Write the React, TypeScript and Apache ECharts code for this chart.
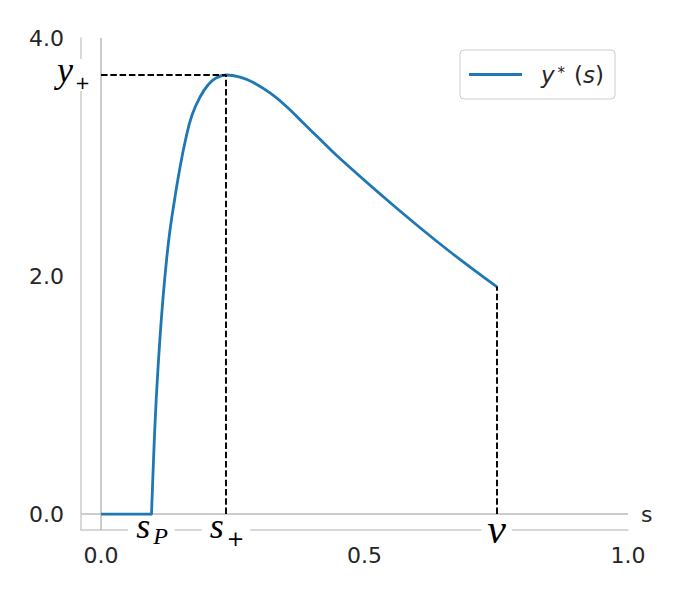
import React, { useEffect, useRef } from 'react';
import * as echarts from 'echarts';

// curve y*(s)
const sValues = [0, 0.0958, 0.0991, 0.1028, 0.1068, 0.1116, 0.1173, 0.1243, 0.1309, 0.1395, 0.149, 0.1603, 0.1727, 0.1879, 0.203, 0.2182, 0.2372, 0.2638, 0.289, 0.3207, 0.3524, 0.3839, 0.4156, 0.4472, 0.5357, 0.5991, 0.6622, 0.7508];
const yValues = [0, 0, 0.395, 0.79, 1.126, 1.462, 1.798, 2.134, 2.387, 2.639, 2.891, 3.143, 3.353, 3.504, 3.605, 3.664, 3.689, 3.671, 3.626, 3.538, 3.423, 3.286, 3.149, 3.013, 2.666, 2.429, 2.204, 1.91];

const xTickValues = [0, 0.5, 1.0];
const yTickValues = [0, 2, 4];

// special points
const sP = 0.0958;
const sPlus = 0.2372;
const yPlus = 3.689;
const vEnd = 0.7508;
const yAtV = 1.91;

const xMin = -0.038;
const xMax = 1.0;
const yMin = -0.134;
const yMax = 4.0;

const near = (a: number, b: number) => Math.abs(a - b) < 1e-6;

export default function App() {
  const ref = useRef<HTMLDivElement>(null);
  useEffect(() => {
    const chart = echarts.init(ref.current!, null, { renderer: 'svg' });
    const mathFont = 'Liberation Serif';
    const dash = { color: '#000', width: 1.9, type: [6.5, 2.8] as any };
    const blue = '#1f77b4';
    const points = sValues.map((s, i) => [s, yValues[i]]);
    const option: any = {
      animation: false,
      backgroundColor: '#fff',
      textStyle: { fontFamily: 'DejaVu Sans' },
      grid: { left: 81, right: 47, top: 38, bottom: 70, containLabel: false, outerBoundsMode: 'none' },
      legend: {
        data: ['y*(s)'],
        left: 460,
        top: 50,
        padding: [13, 11, 13, 9],
        icon: 'rect',
        itemWidth: 53,
        itemHeight: 3,
        borderColor: '#cccccc',
        borderWidth: 1,
        borderRadius: 4,
        backgroundColor: '#fff',
        formatter: () => '{li0|y}{lsup|*}{ln|(}{li|s}{ln|)}',
        textStyle: {
          color: '#262626',
          rich: {
            li0: { fontFamily: 'DejaVu Sans', fontStyle: 'italic', fontSize: 23, lineHeight: 25, padding: [0, 0, 0, 14], color: '#262626' },
            li: { fontFamily: 'DejaVu Sans', fontStyle: 'italic', fontSize: 23, lineHeight: 25, color: '#262626' },
            lsup: { fontFamily: 'DejaVu Sans', fontSize: 15, lineHeight: 25, padding: [0, 9, 4, 3], color: '#262626' },
            ln: { fontFamily: 'DejaVu Sans', fontSize: 23, lineHeight: 25, color: '#262626' },
          },
        },
      },
      xAxis: {
        type: 'value',
        min: xMin,
        max: xMax,
        axisLine: { show: true, onZero: false, lineStyle: { color: '#cccccc', width: 1.5 } },
        axisTick: { show: false },
        splitLine: { show: false },
        axisLabel: {
          customValues: [xTickValues[0], sP, sPlus, xTickValues[1], vEnd, xTickValues[2]],
          margin: -14,
          formatter: (v: number) => {
            if (near(v, sP)) return '{ms|s}{msubI|P}';
            if (near(v, sPlus)) return '{ms|s}{msub|+}';
            if (near(v, vEnd)) return '{mv|v}';
            return '{num|' + v.toFixed(1) + '}';
          },
          rich: {
            num: { fontFamily: 'DejaVu Sans', fontSize: 22, lineHeight: 26, padding: [52, 0, 0, 0], color: '#262626' },
            ms: { fontFamily: mathFont, fontStyle: 'italic', fontSize: 36, lineHeight: 30, padding: [0, 1, 10, 8], color: '#000', backgroundColor: '#fff' },
            msub: { fontFamily: 'DejaVu Sans', fontSize: 21, lineHeight: 30, padding: [16, 6, 0, 2], color: '#000', backgroundColor: '#fff' },
            msubI: { fontFamily: mathFont, fontStyle: 'italic', fontSize: 24, lineHeight: 30, padding: [10, 7, 0, 2], color: '#000', backgroundColor: '#fff' },
            mv: { fontFamily: mathFont, fontStyle: 'italic', fontSize: 42, lineHeight: 30, padding: [0, 6, 5, 6], color: '#000', backgroundColor: '#fff' },
          },
        },
      },
      yAxis: {
        type: 'value',
        min: yMin,
        max: yMax,
        axisLine: { show: true, onZero: false, lineStyle: { color: '#cccccc', width: 1.5 } },
        axisTick: { show: false },
        splitLine: { show: false },
        axisLabel: {
          customValues: [yTickValues[0], yTickValues[1], yPlus, yTickValues[2]],
          margin: -9,
          formatter: (v: number) => {
            if (near(v, yPlus)) return '{my|y}{mysub|+}';
            return '{num|' + v.toFixed(1) + '}';
          },
          rich: {
            num: { fontFamily: 'DejaVu Sans', fontSize: 22, lineHeight: 26, padding: [0, 26, 0, 0], color: '#262626' },
            my: { fontFamily: mathFont, fontStyle: 'italic', fontSize: 36, lineHeight: 30, padding: [0, 0, 10, 3], color: '#000', backgroundColor: '#fff' },
            mysub: { fontFamily: 'DejaVu Sans', fontSize: 18, lineHeight: 30, padding: [14, 0, 0, 2], color: '#000', backgroundColor: '#fff' },
          },
        },
      },
      series: [
        {
          name: 'axes-helper',
          type: 'line',
          z: 1,
          data: [[0, 0]],
          symbol: 'none',
          lineStyle: { width: 0 },
          silent: true,
          markLine: {
            z: 1,
            silent: true,
            symbol: ['none', 'none'],
            animation: false,
            data: [
              { xAxis: 0, lineStyle: { color: '#bbbbbb', width: 1.5, type: 'solid' }, label: { show: false } },
              {
                yAxis: 0,
                lineStyle: { color: '#bbbbbb', width: 1.5, type: 'solid' },
                label: { show: true, position: 'end', distance: 13, formatter: 's', color: '#262626', fontSize: 22, fontFamily: 'DejaVu Sans' },
              },
            ],
          },
        },
        {
          name: 'y*(s)',
          type: 'line',
          z: 3,
          data: points.slice(0, 2),
          symbol: 'none',
          color: blue,
          lineStyle: { color: blue, width: 2.8 },
        },
        {
          name: 'y*(s)',
          type: 'line',
          z: 3,
          data: points.slice(1),
          symbol: 'none',
          smooth: 0.45,
          color: blue,
          lineStyle: { color: blue, width: 2.8, cap: 'round', join: 'round' },
          markLine: {
            silent: true,
            symbol: ['none', 'none'],
            animation: false,
            label: { show: false },
            lineStyle: dash,
            data: [
              [{ coord: [0, yPlus] }, { coord: [sPlus, yPlus] }],
              [{ coord: [sPlus, 0] }, { coord: [sPlus, yPlus] }],
              [{ coord: [vEnd, 0] }, { coord: [vEnd, yAtV] }],
            ],
          },
        },
      ],
    };
    chart.setOption(option);
    return () => chart.dispose();
  }, []);
  return <div ref={ref} style={{ position: 'fixed', left: 0, top: 0, width: 675, height: 600 }} />;
}
